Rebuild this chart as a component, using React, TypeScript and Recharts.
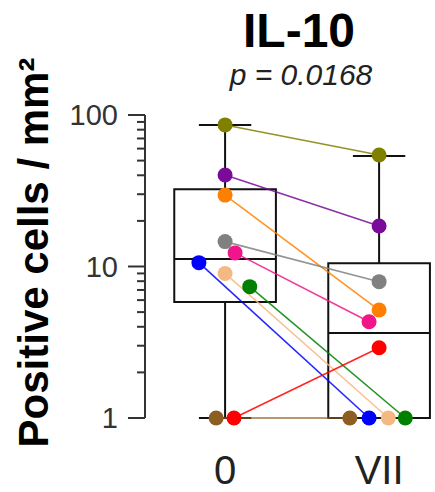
import React from "react";
import {
  ComposedChart,
  XAxis,
  YAxis,
  Scatter,
  ReferenceArea,
  ReferenceLine,
} from "recharts";

// groups on the x axis
const groups = ["0", "VII"];

// one entry per subject (paired samples)
const subjectColors = [
  "#808000", // olive
  "#7a0a9a", // purple
  "#ff8000", // orange
  "#808080", // gray
  "#f0168a", // pink
  "#0000ff", // blue
  "#f4b982", // tan
  "#008000", // green
  "#8c5e22", // brown
  "#ff0000", // red
];
const day0 = [86, 40.2, 29.6, 14.6, 12.3, 10.6, 9.0, 7.36, 1, 1];
const dayVII = [54.5, 18.5, 5.16, 7.94, 4.32, 1, 1, 1, 1, 2.91];
// horizontal jitter of the dots, in group units
const jitter0 = [0, 0, 0, 0, 0.065, -0.17, 0, 0.16, -0.058, 0.058];
const jitterVII = [0, 0, 0, 0, -0.065, -0.065, 0.06, 0.17, -0.19, 0];

// box plot summary per group
const whiskerLow = [1, 1];
const q1 = [5.83, 1];
const median = [11.2, 3.64];
const q3 = [32.3, 10.5];
const whiskerHigh = [86, 53.6];

const yTicks = [1, 2, 3, 4, 5, 6, 7, 8, 9, 10, 20, 30, 40, 50, 60, 70, 80, 90, 100];
const majorTicks = [1, 10, 100];

const FONT = "'Liberation Sans', Arial, sans-serif";
const BOX_HALF = 0.33;
const CAP_HALF = 0.17;

const YTick = (props: any) => {
  const { x, y, payload } = props;
  const major = majorTicks.includes(payload.value);
  return (
    <g>
      <line x1={x - (major ? 17 : 8)} x2={x} y1={y} y2={y} stroke="#333" strokeWidth={2} />
      {major && (
        <text x={x - 27} y={y} dy="0.36em" textAnchor="end" fontSize={29} fill="#333" fontFamily={FONT}>
          {payload.value}
        </text>
      )}
    </g>
  );
};

const XTick = (props: any) => {
  const { x, y, payload } = props;
  return (
    <text x={x} y={y + 66} textAnchor="middle" fontSize={40} fill="#222" fontFamily={FONT}>
      {groups[payload.value]}
    </text>
  );
};

const YLabel = (props: any) => {
  const vb = props.viewBox || { x: 0, y: 115, width: 145, height: 303 };
  const cx = vb.x + 48;
  const cy = vb.y + vb.height / 2 - 14;
  return (
    <text
      x={cx}
      y={cy}
      transform={`rotate(-90, ${cx}, ${cy})`}
      textAnchor="middle"
      fontSize={42}
      fontWeight="bold"
      fill="#000"
      fontFamily={FONT}
    >
      Positive cells / mm²
    </text>
  );
};

export default function App() {
  return (
    <div style={{ position: "absolute", left: 0, top: 0, width: 435, height: 492, background: "#fff" }}>
      <div
        style={{
          position: "absolute",
          left: 199,
          top: 7,
          width: 200,
          textAlign: "center",
          fontFamily: FONT,
          fontWeight: "bold",
          fontSize: 48,
          lineHeight: 1,
          color: "#000",
        }}
      >
        IL-10
      </div>
      <div
        style={{
          position: "absolute",
          left: 201,
          top: 60,
          width: 200,
          textAlign: "center",
          fontFamily: FONT,
          fontStyle: "italic",
          fontSize: 30,
          lineHeight: 1,
          color: "#222",
        }}
      >
        p = 0.0168
      </div>
      <ComposedChart width={435} height={492} margin={{ top: 115, right: 2, left: 0, bottom: 0 }}>
        <XAxis
          type="number"
          dataKey="x"
          domain={[-0.52, 1.35]}
          ticks={[0, 1]}
          interval={0}
          axisLine={false}
          tickLine={false}
          tickSize={0}
          tickMargin={0}
          height={74}
          tick={<XTick />}
        />
        <YAxis
          type="number"
          dataKey="y"
          scale="log"
          domain={[1, 100]}
          ticks={yTicks}
          interval={0}
          width={145}
          tickLine={false}
          tickSize={0}
          tickMargin={0}
          axisLine={{ stroke: "#333", strokeWidth: 2 }}
          tick={<YTick />}
          label={{ value: "Positive cells / mm²", content: <YLabel /> }}
        />
        {groups.map((g, i) => (
          <ReferenceArea
            key={"box" + g}
            x1={i - BOX_HALF}
            x2={i + BOX_HALF}
            y1={q1[i]}
            y2={q3[i]}
            fill="none"
            fillOpacity={0}
            stroke="#111"
            strokeWidth={2}
            strokeOpacity={1}
            ifOverflow="visible"
          />
        ))}
        {groups.map((g, i) => (
          <ReferenceLine
            key={"med" + g}
            segment={[{ x: i - BOX_HALF, y: median[i] }, { x: i + BOX_HALF, y: median[i] }]}
            stroke="#111"
            strokeWidth={2}
            ifOverflow="visible"
          />
        ))}
        {groups.map((g, i) => (
          <ReferenceLine
            key={"wu" + g}
            segment={[{ x: i, y: q3[i] }, { x: i, y: whiskerHigh[i] }]}
            stroke="#111"
            strokeWidth={2}
            ifOverflow="visible"
          />
        ))}
        {groups.map((g, i) => (
          <ReferenceLine
            key={"cu" + g}
            segment={[{ x: i - CAP_HALF, y: whiskerHigh[i] }, { x: i + CAP_HALF, y: whiskerHigh[i] }]}
            stroke="#111"
            strokeWidth={2}
            ifOverflow="visible"
          />
        ))}
        {groups.map((g, i) =>
          q1[i] > whiskerLow[i] ? (
            <ReferenceLine
              key={"wl" + g}
              segment={[{ x: i, y: q1[i] }, { x: i, y: whiskerLow[i] }]}
              stroke="#111"
              strokeWidth={2}
              ifOverflow="visible"
            />
          ) : null
        )}
        {groups.map((g, i) =>
          q1[i] > whiskerLow[i] ? (
            <ReferenceLine
              key={"cl" + g}
              segment={[{ x: i - CAP_HALF, y: whiskerLow[i] }, { x: i + CAP_HALF, y: whiskerLow[i] }]}
              stroke="#111"
              strokeWidth={2}
              ifOverflow="visible"
            />
          ) : null
        )}
        {subjectColors.map((c, i) => (
          <Scatter
            key={"s" + i}
            data={[
              { x: 0 + jitter0[i], y: day0[i] },
              { x: 1 + jitterVII[i], y: dayVII[i] },
            ]}
            dataKey="y"
            line={{ stroke: c, strokeWidth: 1.6, strokeOpacity: 0.85 }}
            shape={(p: any) => <circle cx={p.cx} cy={p.cy} r={7.5} fill={c} />}
            isAnimationActive={false}
          />
        ))}
      </ComposedChart>
    </div>
  );
}
